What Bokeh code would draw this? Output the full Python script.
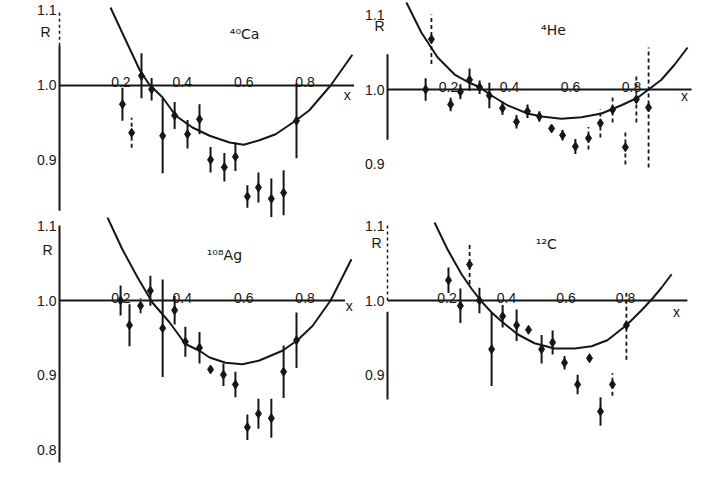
import numpy as np
from bokeh.plotting import figure
from bokeh.layouts import gridplot
from bokeh.models import Range1d
from bokeh.embed import file_html
from bokeh.resources import INLINE
from bokeh.core.properties import value

# ---------------- data ----------------
# 40Ca (top left)
ca_x = [0.205, 0.235, 0.267, 0.300, 0.336, 0.375, 0.417, 0.456, 0.492, 0.537, 0.573, 0.612, 0.648, 0.690, 0.730, 0.772]
ca_r = [0.975, 0.937, 1.013, 0.995, 0.933, 0.960, 0.935, 0.955, 0.901, 0.891, 0.905, 0.852, 0.864, 0.849, 0.857, 0.953]
ca_err = [0.022, 0.020, 0.030, 0.015, 0.050, 0.018, 0.019, 0.020, 0.017, 0.019, 0.019, 0.015, 0.020, 0.027, 0.030, 0.050]
ca_dashed = [1]
ca_curve_x = [0.166, 0.215, 0.262, 0.293, 0.336, 0.378, 0.433, 0.489, 0.554, 0.600, 0.651, 0.704, 0.769, 0.814, 0.883, 0.954]
ca_curve_r = [1.104, 1.061, 1.020, 1.001, 0.984, 0.960, 0.944, 0.933, 0.924, 0.921, 0.927, 0.935, 0.953, 0.967, 1.000, 1.041]

# 4He (top right)
he_x = [0.125, 0.144, 0.207, 0.239, 0.269, 0.302, 0.334, 0.377, 0.423, 0.459, 0.498, 0.538, 0.574, 0.616, 0.659, 0.698, 0.738, 0.780, 0.816, 0.856]
he_r = [1.000, 1.067, 0.980, 0.997, 1.013, 1.003, 0.992, 0.975, 0.957, 0.971, 0.964, 0.948, 0.939, 0.924, 0.935, 0.955, 0.973, 0.923, 0.987, 0.976]
he_err = [0.015, 0.033, 0.009, 0.010, 0.015, 0.009, 0.017, 0.009, 0.009, 0.009, 0.007, 0.004, 0.007, 0.010, 0.015, 0.019, 0.017, 0.023, 0.031, 0.080]
he_dashed = [1, 14, 15, 16, 17, 18, 19]
he_curve_x = [0.062, 0.111, 0.164, 0.220, 0.269, 0.302, 0.341, 0.393, 0.459, 0.505, 0.570, 0.636, 0.702, 0.767, 0.820, 0.856, 0.898, 0.941, 0.984]
he_curve_r = [1.116, 1.076, 1.043, 1.020, 1.009, 1.003, 0.992, 0.979, 0.968, 0.964, 0.961, 0.963, 0.968, 0.979, 0.989, 1.000, 1.013, 1.033, 1.056]

# 108Ag (bottom left)
ag_x = [0.199, 0.228, 0.264, 0.296, 0.336, 0.375, 0.410, 0.456, 0.492, 0.534, 0.573, 0.612, 0.648, 0.690, 0.730, 0.772]
ag_r = [1.000, 0.967, 0.993, 1.013, 0.963, 0.987, 0.945, 0.937, 0.908, 0.901, 0.888, 0.831, 0.849, 0.843, 0.905, 0.947]
ag_err = [0.020, 0.028, 0.010, 0.020, 0.065, 0.019, 0.020, 0.021, 0.004, 0.015, 0.017, 0.017, 0.020, 0.026, 0.035, 0.037]
ag_dashed = [2]
ag_curve_x = [0.156, 0.205, 0.254, 0.303, 0.358, 0.410, 0.456, 0.489, 0.541, 0.596, 0.651, 0.726, 0.775, 0.824, 0.883, 0.951]
ag_curve_r = [1.111, 1.068, 1.031, 0.997, 0.971, 0.942, 0.933, 0.924, 0.917, 0.915, 0.920, 0.933, 0.947, 0.966, 1.000, 1.055]

# 12C (bottom right)
c_x = [0.205, 0.245, 0.276, 0.309, 0.350, 0.387, 0.434, 0.474, 0.518, 0.555, 0.595, 0.639, 0.679, 0.716, 0.756, 0.803]
c_r = [1.027, 0.993, 1.048, 1.000, 0.935, 0.979, 0.967, 0.961, 0.935, 0.944, 0.917, 0.888, 0.923, 0.852, 0.888, 0.967]
c_err = [0.017, 0.023, 0.026, 0.017, 0.049, 0.015, 0.021, 0.005, 0.019, 0.016, 0.009, 0.013, 0.005, 0.019, 0.015, 0.046]
c_dashed = [2, 7, 14, 15]
c_curve_x = [0.158, 0.202, 0.249, 0.282, 0.313, 0.350, 0.387, 0.437, 0.494, 0.561, 0.629, 0.686, 0.739, 0.803, 0.854, 0.887, 0.921, 0.955]
c_curve_r = [1.104, 1.068, 1.035, 1.016, 1.000, 0.984, 0.971, 0.955, 0.943, 0.936, 0.936, 0.939, 0.947, 0.967, 0.987, 1.001, 1.017, 1.035]

# tick labels
x_ticks = [0.2, 0.4, 0.6, 0.8]
x_tick_labels = ["0.2", "0.4", "0.6", "0.8"]
y_ticks_top = [1.1, 1.0, 0.9]
y_tick_labels_top = ["1.1", "1.0", "0.9"]
y_ticks_ag = [1.1, 1.0, 0.9, 0.8]
y_tick_labels_ag = ["1.1", "1.0", "0.9", "0.8"]

titles = ["\u2074\u2070Ca", "\u2074He", "\u00b9\u2070\u2078Ag", "\u00b9\u00b2C"]

# ---------------- styling / layout ----------------
INK = "#161616"
FONT = value("Liberation Sans")
TITLE_FONT = value("DejaVu Sans")

panels = [
    dict(title=titles[0], x=ca_x, r=ca_r, err=ca_err, dashed=ca_dashed, cx=ca_curve_x, cr=ca_curve_r,
         yt=y_ticks_top, ytl=y_tick_labels_top, w=354, h=217,
         xr=(-0.1922, 0.9609), yr=(0.824, 1.1133),
         yaxis=(0.833, 1.053), yaxis_dash=(1.053, 1.1), xend=0.962,
         tpos=(0.603, 1.068), rpos=(1.071, -14), xlab=(0.937, 0.987)),
    dict(title=titles[1], x=he_x, r=he_r, err=he_err, dashed=he_dashed, cx=he_curve_x, cr=he_curve_r,
         yt=y_ticks_top, ytl=y_tick_labels_top, w=353, h=217,
         xr=(-0.1082, 1.0492), yr=(0.8293, 1.1187),
         yaxis=(0.933, 1.047), yaxis_dash=None, xend=0.997,
         tpos=(0.544, 1.080), rpos=(1.085, -8), xlab=(0.974, 0.992)),
    dict(title=titles[2], x=ag_x, r=ag_r, err=ag_err, dashed=ag_dashed, cx=ag_curve_x, cr=ag_curve_r,
         yt=y_ticks_ag, ytl=y_tick_labels_ag, w=354, h=247,
         xr=(-0.1922, 0.9609), yr=(0.7813, 1.1107),
         yaxis=(0.784, 1.1), yaxis_dash=None, xend=0.93,
         tpos=(0.537, 1.061), rpos=(1.068, -12), xlab=(0.944, 0.993)),
    dict(title=titles[3], x=c_x, r=c_r, err=c_err, dashed=c_dashed, cx=c_curve_x, cr=c_curve_r,
         yt=y_ticks_top, ytl=y_tick_labels_top, w=353, h=247,
         xr=(-0.1109, 1.0756), yr=(0.7813, 1.1107),
         yaxis=(0.868, 0.985), yaxis_dash=(1.0, 1.1), xend=1.008,
         tpos=(0.534, 1.075), rpos=(1.077, -11), xlab=(0.971, 0.985)),
]


def make_panel(d):
    p = figure(width=d["w"], height=d["h"], x_range=Range1d(*d["xr"]), y_range=Range1d(*d["yr"]),
               x_axis_location=None, y_axis_location=None, toolbar_location=None,
               output_backend="svg", min_border=0, outline_line_color=None,
               background_fill_color="white", border_fill_color="white")
    p.grid.visible = False

    # axes drawn as lines
    p.segment(x0=[0], y0=[1.0], x1=[d["xend"]], y1=[1.0], line_color=INK, line_width=2)
    p.segment(x0=[0], y0=[d["yaxis"][0]], x1=[0], y1=[d["yaxis"][1]], line_color=INK, line_width=2)
    if d["yaxis_dash"] is not None:
        p.segment(x0=[0], y0=[d["yaxis_dash"][0]], x1=[0], y1=[d["yaxis_dash"][1]],
                  line_color=INK, line_width=1.5, line_dash="3 3")

    # tick labels
    p.text(x=[0] * len(d["yt"]), y=d["yt"], text=d["ytl"], text_align="right",
           text_baseline="alphabetic", x_offset=-3, text_font=FONT, text_font_size="14px",
           text_color=INK)
    p.text(x=x_ticks, y=[1.0] * len(x_ticks), text=x_tick_labels, text_align="center",
           text_baseline="alphabetic", y_offset=-3, text_font=FONT, text_font_size="14px",
           text_color=INK)

    # axis names
    p.text(x=[0], y=[d["rpos"][0]], text=["R"], text_align="center", text_baseline="middle",
           x_offset=d["rpos"][1], text_font=FONT, text_font_size="14px", text_color=INK)
    p.text(x=[d["xlab"][0]], y=[d["xlab"][1]], text=["x"], text_align="center", text_baseline="middle",
           text_font=FONT, text_font_size="14px", text_color=INK)

    # nucleus label
    p.text(x=[d["tpos"][0]], y=[d["tpos"][1]], text=[d["title"]], text_align="center",
           text_baseline="middle", text_font=TITLE_FONT, text_font_size="14px", text_color=INK)

    # curve
    p.line(d["cx"], d["cr"], line_color=INK, line_width=2)

    # error bars
    x = np.array(d["x"]); r = np.array(d["r"]); e = np.array(d["err"])
    dash = np.zeros(len(x), dtype=bool)
    dash[d["dashed"]] = True
    p.segment(x0=x[~dash], y0=(r - e)[~dash], x1=x[~dash], y1=(r + e)[~dash], line_color=INK, line_width=2)
    p.segment(x0=x[dash], y0=(r - e)[dash], x1=x[dash], y1=(r + e)[dash], line_color=INK,
              line_width=1.8, line_dash="4 3")

    # data points
    p.scatter(x=x, y=r, marker="diamond", size=9, fill_color=INK, line_color=INK)
    return p


figs = [make_panel(d) for d in panels]
grid = gridplot([[figs[0], figs[1]], [figs[2], figs[3]]], toolbar_location=None)

open("out.html", "w").write(file_html(grid, INLINE))
